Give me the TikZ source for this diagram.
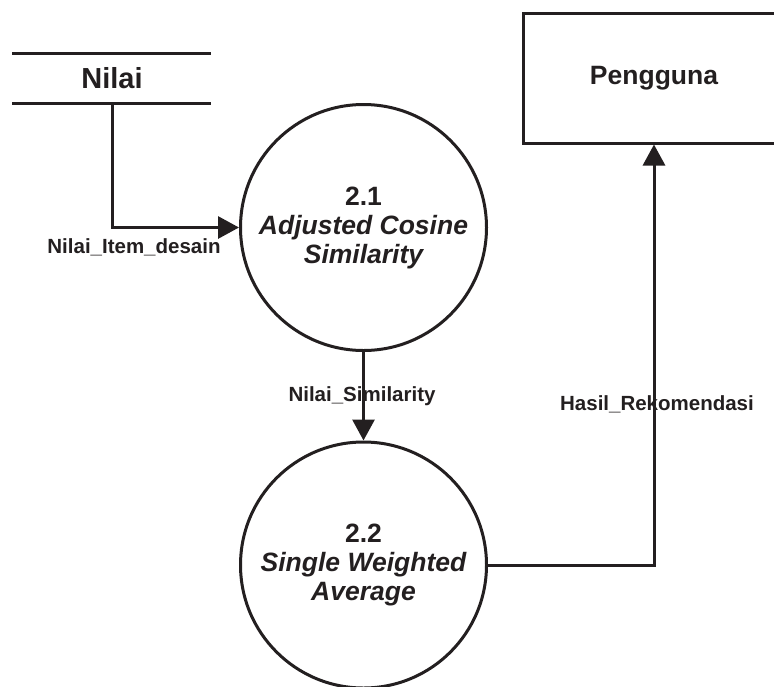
\documentclass[tikz,border=0pt]{standalone}
\usepackage{fontspec}
\setmainfont{Liberation Sans}
\usetikzlibrary{arrows.meta}
\definecolor{ink}{HTML}{231F20}
\tikzset{
  x=1pt, y=-1pt,
  flow/.style={line width=3pt, draw=ink, -{Triangle[length=21pt,width=22pt]}},
  plain/.style={line width=3pt, draw=ink},
  process/.style={circle, draw=ink, line width=3pt, minimum size=246pt, inner sep=0pt,
    align=center, text=ink, font=\fontsize{26.5}{29}\selectfont\bfseries},
  entity/.style={rectangle, draw=ink, line width=3pt, minimum width=262pt, minimum height=130pt,
    inner sep=0pt, text=ink, font=\fontsize{26.5}{30}\selectfont\bfseries},
  flowlabel/.style={text=ink, font=\fontsize{20.5}{24}\selectfont\bfseries, inner sep=1pt},
}
\begin{document}
\begin{tikzpicture}
\useasboundingbox (0,0) rectangle (774,686);
\clip (0,0) rectangle (774,686);

% data store
\draw[plain] (12,53) -- (211,53);
\draw[plain] (12,103) -- (211,103);
\node[text=ink, font=\fontsize{29}{34}\selectfont\bfseries] (nilai) at (112,78) {Nilai};
\coordinate (storeout) at (112,103);

% processes
\node[process] (p21) at (363.5,227.5) {2.1\\\itshape Adjusted Cosine\\\itshape Similarity};
\node[process] (p22) at (363.5,565) {2.2\\\itshape Single Weighted\\\itshape Average};

% external entity
\node[entity] (user) at (654,78) {Pengguna};

% flows
\draw[flow] (storeout) |- (p21.west);
\node[flowlabel] (l1) at (134,247) {Nilai\_Item\_desain};

\draw[flow] (p21.south) -- (p22.north);
\node[flowlabel] (l2) at (362,396) {Nilai\_Similarity};

\draw[flow] (p22.east) -| (user.south);
\node[flowlabel] (l3) at (657,404) {Hasil\_Rekomendasi};
\end{tikzpicture}
\end{document}
